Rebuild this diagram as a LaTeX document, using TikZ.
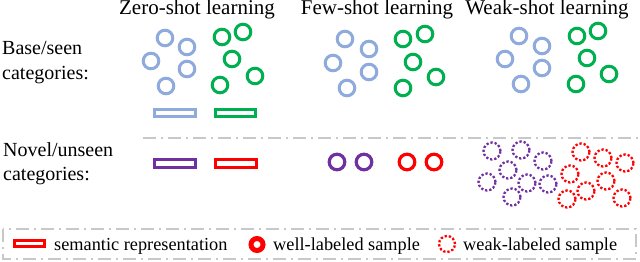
\documentclass[tikz,border=0pt]{standalone}
\usepackage{fontspec}
\setmainfont{Liberation Serif}
\usetikzlibrary{calc}
\definecolor{basis}{HTML}{8FAADC}
\definecolor{gruen}{HTML}{00B050}
\definecolor{lila}{HTML}{7030A0}
\definecolor{rot}{HTML}{FF0000}
\definecolor{trenn}{HTML}{C8C8C8}

\begin{document}
\begin{tikzpicture}[
        x=1pt, y=-1pt,
        every node/.style={font=\fontsize{20}{22}\selectfont, inner sep=0pt},
        kopf/.style={anchor=base, font=\fontsize{21}{23}\selectfont},
        legende/.style={anchor=base west, font=\fontsize{18.3}{20}\selectfont},
        ring/.style={line width=3pt},
        punktring/.style={line width=2.3pt, dash pattern=on 2.3pt off 1.9pt},
        semantik/.style={line width=3pt},
        trennlinie/.style={trenn, line width=1.8pt,
          dash pattern=on 13pt off 5pt on 2pt off 5pt},
      ]
      \useasboundingbox (0,0) rectangle (640,262);

      % Spaltenkoepfe
      \node[kopf] (zero) at (197,15) {Zero-shot learning};
      \node[kopf] (few)  at (377,15) {Few-shot learning};
      \node[kopf] (weak) at (547,15) {Weak-shot learning};

      % Zeilen
      \node[anchor=base west] (basis1) at (2,55)  {Base/seen};
      \node[anchor=base west] (basis2) at (2,79)  {categories:};
      \node[anchor=base west] (neu1)   at (3,156) {Novel/unseen};
      \node[anchor=base west] (neu2)   at (3,180) {categories:};

      % Basiskategorien: Ringe
      \foreach \cx/\cy in {165/38, 187/47, 151/61, 187/69, 166/86,
                           345/39, 369/49, 333/63, 369/72, 347/88,
                           519/36, 542/46, 505/59, 542/68, 521/84} {
        \draw[ring, basis] (\cx,\cy) circle[radius=7.8pt];
      }
      \foreach \cx/\cy in {222/37, 243/32, 232/59, 255/76, 220/85,
                           403/39, 425/34, 413/62, 436/77, 403/88,
                           577/36, 598/31, 587/58, 609/74, 576/84} {
        \draw[ring, gruen] (\cx,\cy) circle[radius=7.8pt];
      }

      % semantische Repraesentation (Zero-shot)
      \draw[semantik, basis] (154.5,109.5) rectangle (195.5,116.5);
      \draw[semantik, gruen] (215.5,109.5) rectangle (255.5,116.5);
      \draw[semantik, lila]  (154.5,159.5) rectangle (195.5,167.5);
      \draw[semantik, rot]   (215.5,159.5) rectangle (256.5,167);

      % Trennlinie
      \draw[trennlinie] (143,138) -- (640,138);

      % Few-shot: wenige gut gelabelte Beispiele
      \foreach \cx/\col in {337/lila, 364/lila, 407/rot, 434/rot} {
        \draw[ring, \col, line width=3.2pt] (\cx,162) circle[radius=7.8pt];
      }

      % Weak-shot: viele schwach gelabelte Beispiele
      \foreach \cx/\cy in {492/151, 521/150, 543/161, 508/170,
                           487/182, 527/183, 548/184, 512/197} {
        \draw[punktring, lila] (\cx,\cy) circle[radius=8.5pt];
      }
      \foreach \cx/\cy in {581/152, 603/158, 625/163, 570/174,
                           606/181, 586/191, 567/199, 622/198} {
        \draw[punktring, rot] (\cx,\cy) circle[radius=8.5pt];
      }

      % Legende
      \draw[trennlinie] (3,229) rectangle (636,259);
      \draw[rot, line width=3pt] (14.5,240.5) rectangle (44.5,246.5);
      \node[legende] (lsem) at (54,250) {semantic representation};
      \draw[rot, line width=5pt] (257,244.5) circle[radius=6pt];
      \node[legende] (lwell) at (273,250) {well-labeled sample};
      \draw[punktring, rot] (447,244) circle[radius=8pt];
      \node[legende] (lweak) at (463,250) {weak-labeled sample};
    \end{tikzpicture}
\end{document}
